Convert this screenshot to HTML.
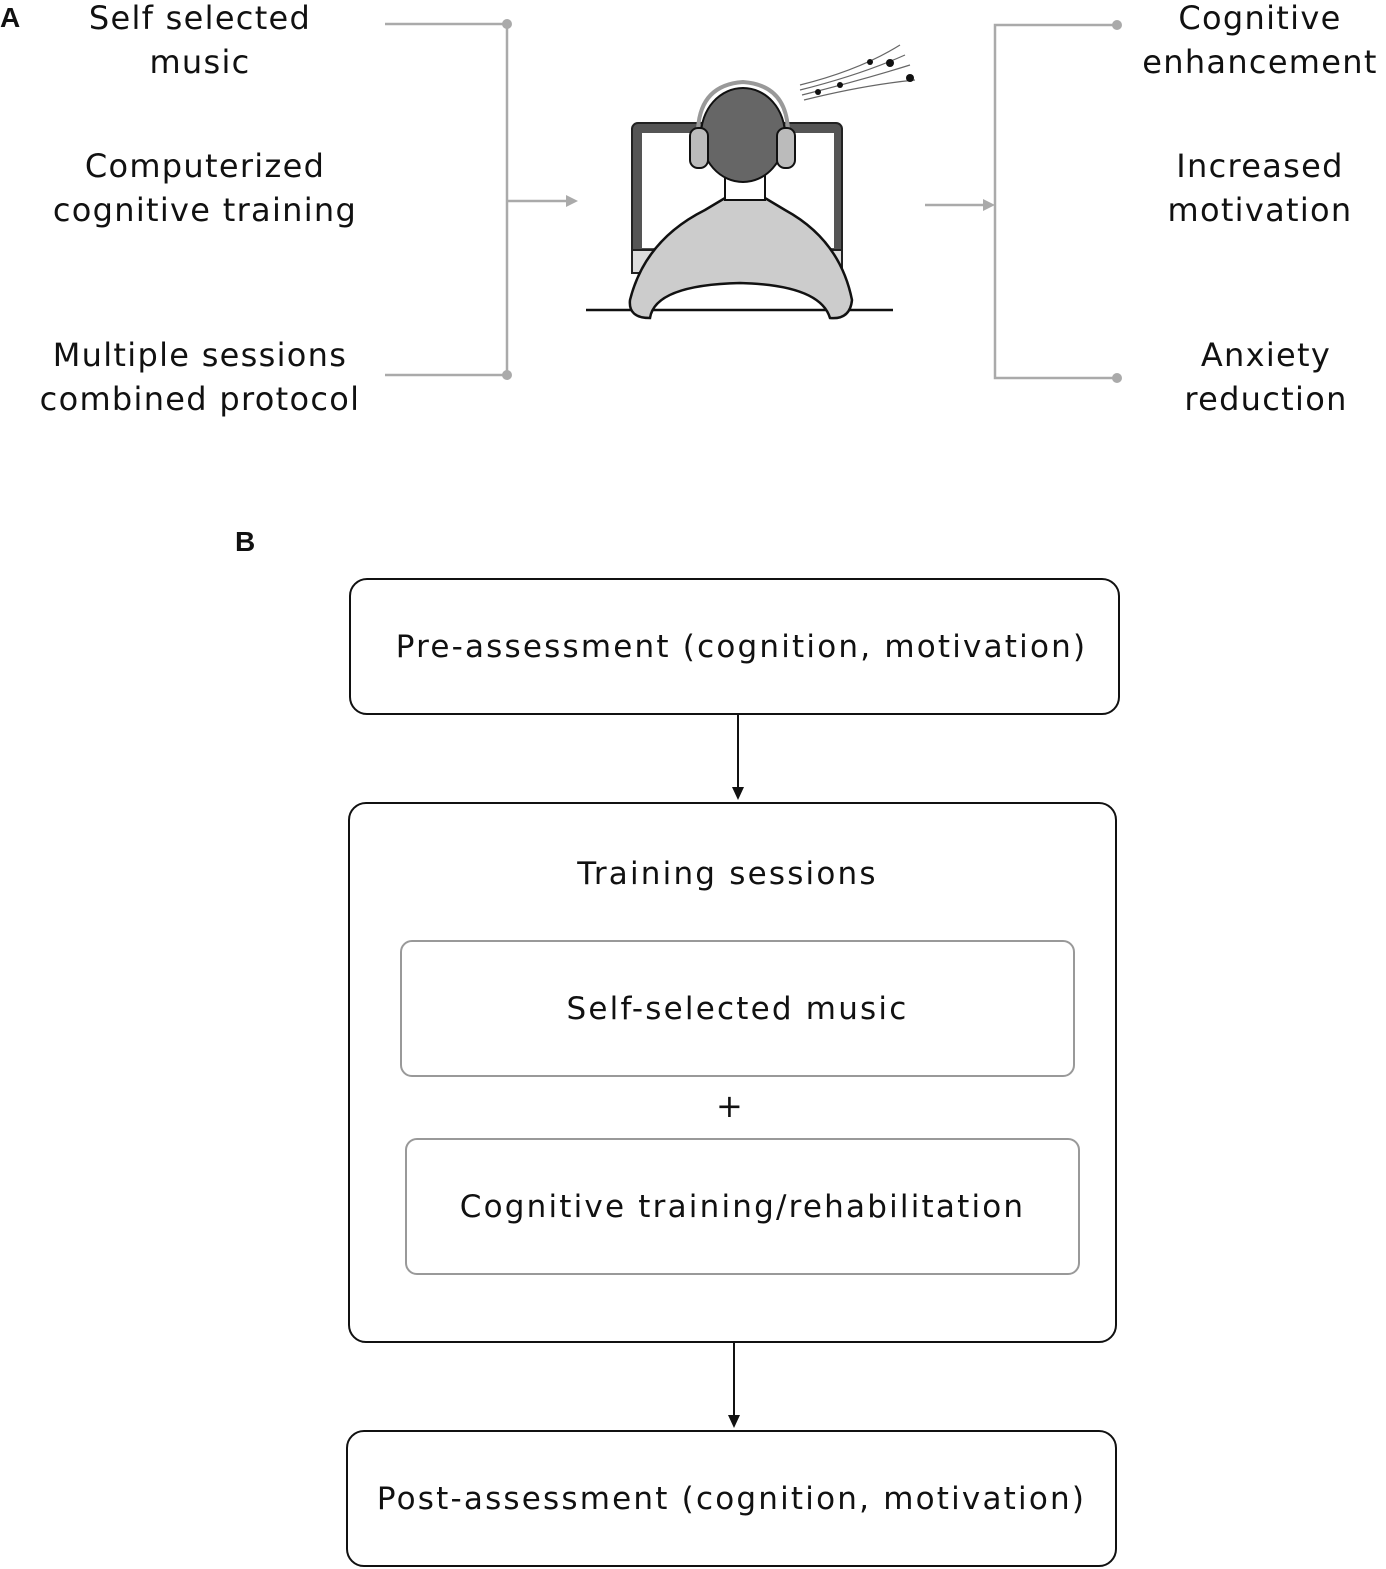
<!DOCTYPE html>
<html><head><meta charset="utf-8"><style>
body{margin:0;width:1386px;height:1569px;background:#fff;position:relative;overflow:hidden;font-family:"DejaVu Sans","Liberation Sans",sans-serif;color:#111}
.t{position:absolute;font-size:32px;line-height:44px;text-align:center;white-space:nowrap;letter-spacing:1.3px}
.box{position:absolute;box-sizing:border-box;border:2px solid #111;border-radius:18px;display:flex;align-items:center;justify-content:center;font-size:31px;letter-spacing:2.2px}
.ib{position:absolute;box-sizing:border-box;border:2px solid #999;border-radius:12px;display:flex;align-items:center;justify-content:center;font-size:31px;letter-spacing:2.2px}
</style></head><body>
<div style="position:absolute;left:0;top:2px;font:bold 28px 'Liberation Sans',sans-serif">A</div>
<div style="position:absolute;left:235px;top:526px;font:bold 28px 'Liberation Sans',sans-serif">B</div>
<div class="t" style="left:0;width:400px;top:-4px">Self selected<br>music</div>
<div class="t" style="left:5px;width:400px;top:144px">Computerized<br>cognitive training</div>
<div class="t" style="left:0;width:400px;top:333px">Multiple sessions<br>combined protocol</div>
<div class="t" style="left:1140px;width:240px;top:-4px">Cognitive<br>enhancement</div>
<div class="t" style="left:1140px;width:240px;top:144px">Increased<br>motivation</div>
<div class="t" style="left:1146px;width:240px;top:333px">Anxiety<br>reduction</div>
<svg style="position:absolute;left:0;top:0" width="1386" height="500">
<g stroke="#aaa" stroke-width="2.5" fill="none">
<path d="M385 24H507V375H385"/><path d="M507 201H570"/>
<path d="M925 205H985"/><path d="M1117 25H995V378H1117"/>
</g>
<g fill="#aaa"><circle cx="507" cy="24" r="5"/><circle cx="507" cy="375" r="5"/><circle cx="1117" cy="25" r="5"/><circle cx="1117" cy="378" r="5"/>
<path d="M578 201l-12-6v12z"/><path d="M995 205l-12-6v12z"/></g>
<rect x="632" y="123" width="210" height="150" rx="6" fill="#555" stroke="#222" stroke-width="2"/>
<rect x="642" y="133" width="192" height="115" fill="#fff"/>
<rect x="632" y="250" width="210" height="23" fill="#ddd" stroke="#222" stroke-width="2"/>
<line x1="586" y1="310" x2="893" y2="310" stroke="#111" stroke-width="2.5"/>
<path d="M630 300 Q645 240 705 210 L725 198 L765 198 L785 210 Q840 240 852 300 Q850 320 830 318 Q820 285 740 283 Q655 285 650 318 Q628 318 630 300Z" fill="#ccc" stroke="#111" stroke-width="2.5"/>
<rect x="725" y="170" width="40" height="30" fill="#fff" stroke="#111" stroke-width="2"/>
<ellipse cx="743" cy="135" rx="42" ry="47" fill="#666" stroke="#111" stroke-width="2"/>
<path d="M698 130 Q700 85 743 82 Q786 85 788 130" fill="none" stroke="#999" stroke-width="4"/>
<rect x="690" y="128" width="18" height="40" rx="8" fill="#bbb" stroke="#111" stroke-width="2"/>
<rect x="777" y="128" width="18" height="40" rx="8" fill="#bbb" stroke="#111" stroke-width="2"/>
<g stroke="#666" fill="none" stroke-width="1.2"><path d="M800 85 Q860 70 900 45"/><path d="M800 90 Q860 75 905 55"/><path d="M802 95 Q862 80 910 65"/><path d="M804 100 Q864 85 915 80"/></g>
<g fill="#111"><circle cx="818" cy="92" r="3"/><circle cx="840" cy="85" r="3"/><circle cx="870" cy="62" r="3"/><circle cx="890" cy="63" r="4"/><circle cx="910" cy="78" r="4"/></g>
</svg>
<div class="box" style="left:349px;top:578px;width:771px;height:137px;padding-left:14px">Pre-assessment (cognition, motivation)</div>
<div class="box" style="left:348px;top:802px;width:769px;height:541px;display:block"><div style="text-align:center;margin-top:52px;margin-left:-10px">Training sessions</div></div>
<div class="ib" style="left:400px;top:940px;width:675px;height:137px">Self-selected music</div>
<div class="t" style="left:700px;width:60px;top:1084px">+</div>
<div class="ib" style="left:405px;top:1138px;width:675px;height:137px">Cognitive training/rehabilitation</div>
<div class="box" style="left:346px;top:1430px;width:771px;height:137px">Post-assessment (cognition, motivation)</div>
<svg style="position:absolute;left:0;top:700px" width="1386" height="760">
<g stroke="#111" stroke-width="2"><line x1="738" y1="15" x2="738" y2="92"/><line x1="734" y1="643" x2="734" y2="720"/></g>
<g fill="#111"><path d="M738 100l-6-13h12z"/><path d="M734 728l-6-13h12z"/></g>
</svg>
</body></html>
